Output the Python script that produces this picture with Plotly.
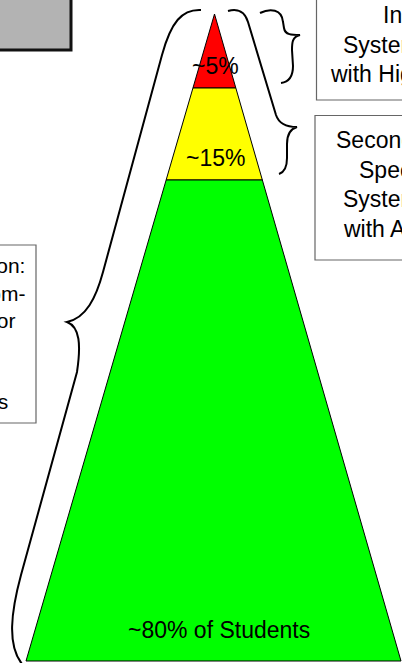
import plotly.graph_objects as go

# ---- data ----
tier_names = ["Tertiary", "Secondary", "Primary"]
tier_pct = [5, 15, 80]
tier_labels = ["~5%", "~15%", "~80% of Students"]
tier_colors = ["#ff0000", "#ffff00", "#00ff00"]

tertiary_lines = ["Tertiary Prevention:", "Individualized", "Systems for Students", "with High-Risk Behavior"]
secondary_lines = ["Secondary Prevention:", "Specialized Group", "Systems for Students", "with At-Risk Behavior"]
primary_lines = ["Primary Prevention:", "School-/Classroom-", "Wide Systems for", "All Students,", "Staff, & Settings"]

# ---- geometry (pixel-like canvas) ----
W, H = 402, 663
apex = (214.5, 14)
base_y = 661
base_left, base_right = 26, 401
band_bottoms = [88, 180, 661]  # bottom y of each tier band


def edge_x(y):
    t = (y - apex[1]) / (base_y - apex[1])
    return apex[0] + (base_left - apex[0]) * t, apex[0] + (base_right - apex[0]) * t


def px(x):
    return x / W


def py(y):
    return 1 - y / H


fig = go.Figure()

top = apex[1]
for name, lab, col, bot in zip(tier_names, tier_labels, tier_colors, band_bottoms):
    lt, rt = edge_x(top)
    lb, rb = edge_x(bot)
    xs = [lt, rt, rb, lb, lt]
    ys = [top, top, bot, bot, top]
    fig.add_trace(go.Scatter(x=xs, y=ys, mode="lines", fill="toself", fillcolor=col,
                             line=dict(color="#000000", width=1), hoverinfo="skip",
                             showlegend=False, name=name))
    top = bot

# tier labels
label_pos = [(215.5, 66), (215.5, 158), (219, 630)]
for lab, (lx, ly) in zip(tier_labels, label_pos):
    fig.add_annotation(xref="paper", yref="paper", x=px(lx), y=py(ly), text=lab, showarrow=False,
                       xanchor="center", yanchor="middle",
                       font=dict(family="Liberation Sans, Arial", size=23, color="#000000"))

# braces (SVG paths in data coordinates)
brace_paths = [
    "M 201 10 C 182 9, 171 22, 162 55 L 103 272 C 96 298, 86 318, 67 322 "
    "C 80 327, 81 345, 77 372 L 21 575 C 11 612, 7 645, 22 664",
    "M 260 13 C 270 8, 282 9, 283 22 L 284 28 C 285 35, 292 35, 300 35 "
    "C 292 37, 292 43, 292 50 L 293 66 C 293 77, 289 82, 281 83",
    "M 228 11 C 238 8, 245 12, 248 22 L 276 115 C 279 124, 287 127, 297 127 "
    "C 290 129, 287 135, 287 144 L 287 158 C 287 167, 285 172, 279 174",
]
for p in brace_paths:
    fig.add_shape(type="path", path=p, xref="x", yref="y",
                  line=dict(color="#000000", width=2), fillcolor="rgba(0,0,0,0)")

# boxes
fig.add_shape(type="rect", x0=-10, x1=71, y0=-10, y1=50, fillcolor="#b3b3b3",
              line=dict(color="#111111", width=3), layer="above")
fig.add_shape(type="rect", x0=316.5, x1=590, y0=-45, y1=100, fillcolor="rgba(255,255,255,0)",
              line=dict(color="#666666", width=1.2))
fig.add_shape(type="rect", x0=315, x1=590, y0=115.5, y1=260, fillcolor="rgba(255,255,255,0)",
              line=dict(color="#666666", width=1.2))
fig.add_shape(type="rect", x0=-180, x1=36, y0=245, y1=423, fillcolor="rgba(255,255,255,0)",
              line=dict(color="#666666", width=1.2))

right_font = dict(family="Liberation Sans, Arial", size=23, color="#000000")
left_font = dict(family="Liberation Sans, Arial", size=21, color="#000000")
for lines, cx, ys, fnt in ((tertiary_lines, 452.5, [-16, 15, 45, 74], right_font),
                           (secondary_lines, 452.5, [140, 170, 199, 229], right_font),
                           (primary_lines, -67, [265, 293, 320, 360, 401], left_font)):
    for t, yy in zip(lines, ys):
        fig.add_annotation(xref="paper", yref="paper", x=px(cx), y=py(yy), text=t, showarrow=False,
                           xanchor="center", yanchor="middle", font=fnt)

fig.update_xaxes(range=[0, W], visible=False, fixedrange=True)
fig.update_yaxes(range=[H, 0], visible=False, fixedrange=True)
fig.update_layout(width=W, height=H, margin=dict(l=0, r=0, t=0, b=0),
                  paper_bgcolor="#ffffff", plot_bgcolor="#ffffff", showlegend=False)

fig.write_html("out.html", config={"displayModeBar": False},
               post_script="document.body.style.margin='0';document.body.style.overflow='hidden';")
